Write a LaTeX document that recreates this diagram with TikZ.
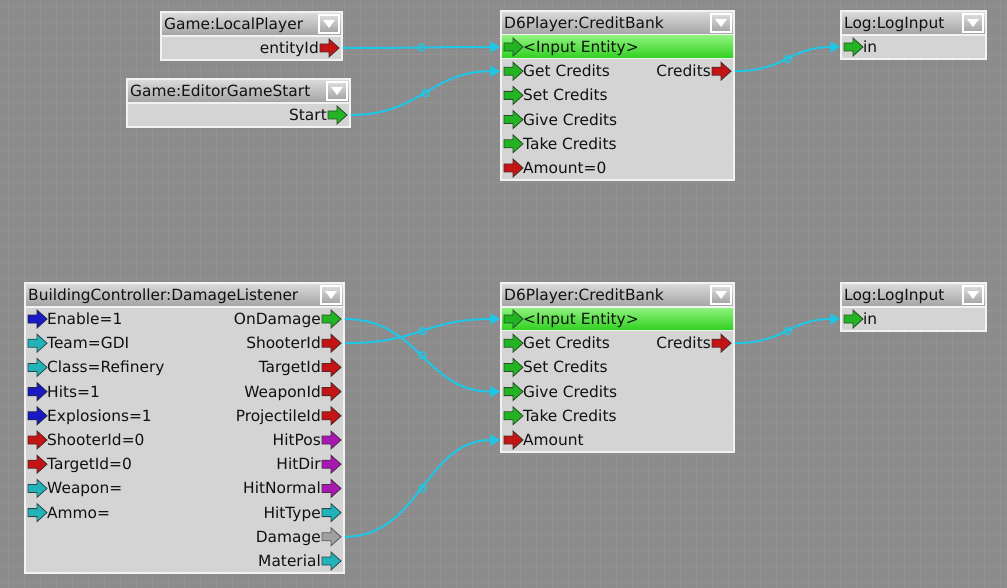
\documentclass[tikz,border=0pt]{standalone}
\usepackage{fontspec}
\setmainfont{DejaVu Sans}
\usetikzlibrary{arrows.meta,fit}

\definecolor{bgc}{HTML}{8C8C8C}
\definecolor{gridc}{HTML}{939393}
\definecolor{bodyc}{HTML}{D4D4D4}
\definecolor{hdtop}{HTML}{DCDCDC}
\definecolor{hdbot}{HTML}{A2A2A2}
\definecolor{borderc}{HTML}{F2F2F2}
\definecolor{wirec}{HTML}{1FC6E6}
\definecolor{txtc}{HTML}{111111}
\definecolor{hiTop}{HTML}{8CF27C}
\definecolor{hiBot}{HTML}{30D020}
\definecolor{gf}{HTML}{22B422}\definecolor{gd}{HTML}{2A4A2A}
\definecolor{rf}{HTML}{C41414}\definecolor{rd}{HTML}{4A2A2A}
\definecolor{bf}{HTML}{1A1AC4}\definecolor{bd}{HTML}{22224A}
\definecolor{cf}{HTML}{22B2BA}\definecolor{cd}{HTML}{2A4848}
\definecolor{mf}{HTML}{A818B0}\definecolor{md}{HTML}{482A48}
\definecolor{af}{HTML}{A0A0A0}\definecolor{ad}{HTML}{5A5A5A}

\tikzset{
  wire/.style={draw=wirec, line width=2pt, -{Triangle[length=10pt,width=11pt]}},
  wirecirc/.style={circle, draw=wirec, line width=1.3pt, inner sep=0pt, minimum size=7pt},
  lbl/.style={font=\fontsize{15.4}{17}\selectfont, text=txtc, inner sep=0pt, text height=14pt, text depth=3pt},
  boxframe/.style={draw=borderc, line width=1.5pt, inner sep=0pt},
  pgreen/.style={fill=gf, draw=gd, line width=0.8pt},
  pred/.style={fill=rf, draw=rd, line width=0.8pt},
  pblue/.style={fill=bf, draw=bd, line width=0.8pt},
  pcyan/.style={fill=cf, draw=cd, line width=0.8pt},
  pmag/.style={fill=mf, draw=md, line width=0.8pt},
  pgray/.style={fill=af, draw=ad, line width=0.8pt},
  gridline/.style={draw=gridc, line width=0.6pt}
}

% #1 x left, #2 y centre, #3 style
\newcommand\portarrow[3]{\filldraw[#3] (#1,#2-4) -- ++(9,0) -- ++(0,-5) -- ++(10,9) -- ++(-10,9) -- ++(0,-5) -- ++(-9,0) -- cycle;}
% #1 name #2 x1 #3 y1 #4 x2 #5 y2 #6 title
\newcommand\flowbox[6]{%
  \fill[bodyc] (#2,#3) rectangle (#4,#5);
  \shade[top color=hdtop, bottom color=hdbot] (#2,#3) rectangle (#4,#3+24);
  \draw[borderc, line width=1.2pt] (#2,#3+24) -- (#4,#3+24);
  \node[boxframe, fit={(#2,#3) (#4,#5)}] (#1) {};
  \node[lbl, anchor=west] (#1-title) at (#2+3,#3+12) {#6};
  \shade[top color=hdtop, bottom color=hdbot] (#4-23,#3+3) rectangle (#4-3,#3+21);
  \draw[white, line width=1.5pt] (#4-23,#3+3) rectangle (#4-3,#3+21);
  \fill[white] (#4-19,#3+8) -- (#4-7,#3+8) -- (#4-13,#3+16) -- cycle;
}
% #1 name #2 x1 #3 y #4 style #5 text
\newcommand\inrow[5]{%
  \portarrow{#2+3}{#3}{#4}
  \node[lbl, anchor=west] (#1) at (#2+22,#3) {#5};
}
% #1 name #2 x2 #3 y #4 style #5 text
\newcommand\outrow[5]{%
  \portarrow{#2-22}{#3}{#4}
  \node[lbl, anchor=east] (#1) at (#2-23,#3) {#5};
}

\begin{document}
\begin{tikzpicture}[x=1pt, y=-1pt]
\useasboundingbox (0,0) rectangle (1007,588);
\fill[bgc] (0,0) rectangle (1007,588);
\foreach \gx in {8,24,...,1000} \draw[gridline] (\gx,0) -- (\gx,588);
\foreach \gy in {6,22,...,588} \draw[gridline] (0,\gy) -- (1007,\gy);

% ---------- top group ----------
\flowbox{lp}{161}{12}{342}{60}{Game:LocalPlayer}
\outrow{lpE}{342}{48}{pred}{entityId}

\flowbox{egs}{127}{79}{350}{127}{Game:EditorGameStart}
\outrow{egsS}{350}{115}{pgreen}{Start}

\flowbox{cbA}{501}{11}{734}{180}{D6Player:CreditBank}
\shade[top color=hiTop, bottom color=hiBot] (502,36) rectangle (733,58);
\draw[borderc, line width=1pt] (502,58.5) -- (733,58.5);
\inrow{cbAin}{501}{47}{pgreen}{<Input Entity>}
\inrow{cbAget}{501}{71.2}{pgreen}{Get Credits}
\inrow{cbAset}{501}{95.4}{pgreen}{Set Credits}
\inrow{cbAgive}{501}{119.6}{pgreen}{Give Credits}
\inrow{cbAtake}{501}{143.8}{pgreen}{Take Credits}
\inrow{cbAamt}{501}{168}{pred}{Amount=0}
\outrow{cbAcr}{734}{71.2}{pred}{Credits}

\flowbox{logA}{841}{11}{986}{59}{Log:LogInput}
\inrow{logAin}{841}{47}{pgreen}{in}

% ---------- bottom group ----------
\flowbox{bc}{25}{283}{344}{573}{BuildingController:DamageListener}
\inrow{bcEn}{25}{319}{pblue}{Enable=1}
\inrow{bcTeam}{25}{343.2}{pcyan}{Team=GDI}
\inrow{bcClass}{25}{367.4}{pcyan}{Class=Refinery}
\inrow{bcHits}{25}{391.6}{pblue}{Hits=1}
\inrow{bcExp}{25}{415.8}{pblue}{Explosions=1}
\inrow{bcSh}{25}{440}{pred}{ShooterId=0}
\inrow{bcTg}{25}{464.2}{pred}{TargetId=0}
\inrow{bcWp}{25}{488.4}{pcyan}{Weapon=}
\inrow{bcAm}{25}{512.6}{pcyan}{Ammo=}
\outrow{bcOnD}{344}{319}{pgreen}{OnDamage}
\outrow{bcShO}{344}{343.2}{pred}{ShooterId}
\outrow{bcTgO}{344}{367.4}{pred}{TargetId}
\outrow{bcWpO}{344}{391.6}{pred}{WeaponId}
\outrow{bcPrO}{344}{415.8}{pred}{ProjectileId}
\outrow{bcHP}{344}{440}{pmag}{HitPos}
\outrow{bcHD}{344}{464.2}{pmag}{HitDir}
\outrow{bcHN}{344}{488.4}{pmag}{HitNormal}
\outrow{bcHT}{344}{512.6}{pcyan}{HitType}
\outrow{bcDm}{344}{536.8}{pgray}{Damage}
\outrow{bcMt}{344}{561}{pcyan}{Material}

\flowbox{cbB}{501}{283}{734}{452}{D6Player:CreditBank}
\shade[top color=hiTop, bottom color=hiBot] (502,308) rectangle (733,330);
\draw[borderc, line width=1pt] (502,330.5) -- (733,330.5);
\inrow{cbBin}{501}{319}{pgreen}{<Input Entity>}
\inrow{cbBget}{501}{343.2}{pgreen}{Get Credits}
\inrow{cbBset}{501}{367.4}{pgreen}{Set Credits}
\inrow{cbBgive}{501}{391.6}{pgreen}{Give Credits}
\inrow{cbBtake}{501}{415.8}{pgreen}{Take Credits}
\inrow{cbBamt}{501}{440}{pred}{Amount}
\outrow{cbBcr}{734}{343.2}{pred}{Credits}

\flowbox{logB}{841}{283}{986}{331}{Log:LogInput}
\inrow{logBin}{841}{319}{pgreen}{in}

% ---------- connectors ----------
\draw[wire] (lp.east |- lpE.center) .. controls +(70,0) and +(-70,0) .. node[wirecirc, pos=0.5]{} (cbA.west |- cbAin.center);
\draw[wire] (egs.east |- egsS.center) .. controls +(70,0) and +(-70,0) .. node[wirecirc, pos=0.5]{} (cbA.west |- cbAget.center);
\draw[wire] (cbA.east |- cbAcr.center) .. controls +(50,0) and +(-50,0) .. node[wirecirc, pos=0.5]{} (logA.west |- logAin.center);
\draw[wire] (bc.east |- bcOnD.center) .. controls +(75,0) and +(-75,0) .. node[wirecirc, pos=0.5]{} (cbB.west |- cbBgive.center);
\draw[wire] (bc.east |- bcShO.center) .. controls +(75,0) and +(-75,0) .. node[wirecirc, pos=0.5]{} (cbB.west |- cbBin.center);
\draw[wire] (bc.east |- bcDm.center) .. controls +(75,0) and +(-75,0) .. node[wirecirc, pos=0.5]{} (cbB.west |- cbBamt.center);
\draw[wire] (cbB.east |- cbBcr.center) .. controls +(50,0) and +(-50,0) .. node[wirecirc, pos=0.5]{} (logB.west |- logBin.center);
\end{tikzpicture}
\end{document}
